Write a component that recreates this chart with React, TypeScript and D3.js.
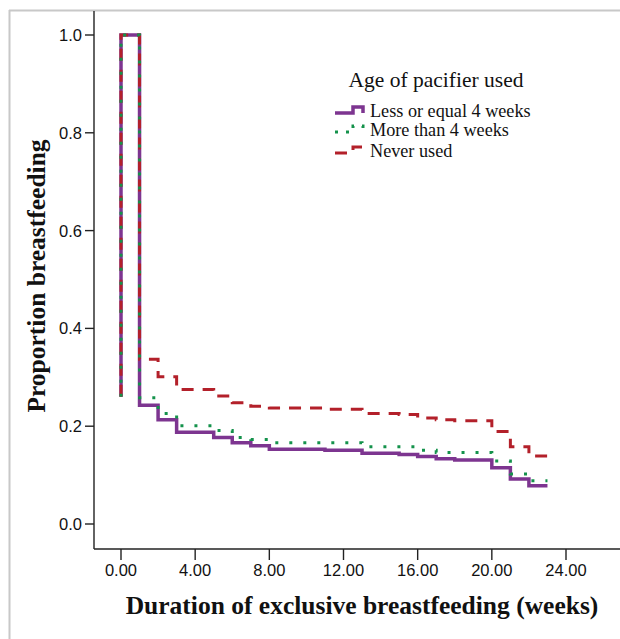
import React from "react";
import * as d3 from "d3";

// Kaplan–Meier style step curves: proportion still exclusively breastfeeding by week
const lessEq4Times = [0, 0, 1, 2, 3, 5, 6, 7, 8, 11, 13, 15, 16, 17, 18, 20, 21, 22, 23];
const lessEq4Values = [0.26, 1.0, 0.243, 0.213, 0.1875, 0.177, 0.166, 0.16, 0.153, 0.151, 0.1446, 0.142, 0.138, 0.1335, 0.131, 0.115, 0.092, 0.078, 0.078];

const moreThan4Times = [0, 0, 1, 2, 3, 5, 6, 7, 8, 13, 16, 17, 20, 21, 22, 23];
const moreThan4Values = [0.26, 1.0, 0.258, 0.226, 0.201, 0.191, 0.177, 0.173, 0.166, 0.158, 0.151, 0.146, 0.129, 0.102, 0.0885, 0.0885];

const neverTimes = [0, 0, 1, 2, 3, 5, 6, 7, 8, 11, 13, 15, 16, 17, 18, 20, 21, 22, 23];
const neverValues = [0.26, 1.0, 0.337, 0.301, 0.275, 0.262, 0.248, 0.241, 0.237, 0.2345, 0.226, 0.224, 0.217, 0.213, 0.211, 0.189, 0.158, 0.139, 0.139];

const xTicks = [0, 4, 8, 12, 16, 20, 24];
const yTicks = [0, 0.2, 0.4, 0.6, 0.8, 1.0];

const legendTitle = "Age of pacifier used";
const seriesLabels = ["Less or equal 4 weeks", "More than 4 weeks", "Never used"];

const W = 620;
const H = 639;

const PURPLE = "#7d3590";
const GREEN = "#14924b";
const RED = "#b3202a";

export default function App() {
  const x = d3.scaleLinear().domain([0, 24]).range([121, 566]);
  const y = d3.scaleLinear().domain([0, 1]).range([524, 35]);

  const step = d3
    .line<[number, number]>()
    .x((d) => x(d[0]))
    .y((d) => y(d[1]))
    .curve(d3.curveStepAfter);

  const zip = (t: number[], v: number[]) => t.map((ti, i) => [ti, v[i]] as [number, number]);

  const axisX = 94;
  const axisY = 549;

  const serifFont = "'Liberation Serif', 'Times New Roman', serif";
  const sansFont = "'Liberation Sans', Arial, sans-serif";

  // legend step glyph
  const glyph = (base: number) => `M335,${base} H353 V${base - 6} H363 V${base}`;

  return (
    <svg
      width={W}
      height={H}
      style={{ position: "absolute", left: 0, top: 0, background: "#fff" }}
    >
      {/* outer frame */}
      <line x1={9.5} y1={10} x2={9.5} y2={H} stroke="#c8c8c8" strokeWidth={2} />
      <line x1={9} y1={10.5} x2={W} y2={10.5} stroke="#c8c8c8" strokeWidth={2} />

      {/* axes */}
      <line x1={axisX} y1={11} x2={axisX} y2={axisY} stroke="#222" strokeWidth={1.4} />
      <line x1={axisX} y1={axisY} x2={W} y2={axisY} stroke="#222" strokeWidth={1.4} />

      {yTicks.map((t) => (
        <g key={"y" + t}>
          <line x1={85} x2={axisX} y1={y(t)} y2={y(t)} stroke="#222" strokeWidth={1.4} />
          <text
            x={82}
            y={y(t) + 6}
            textAnchor="end"
            fontFamily={sansFont}
            fontSize={16.5}
            fill="#111"
          >
            {t.toFixed(1)}
          </text>
        </g>
      ))}

      {xTicks.map((t) => (
        <g key={"x" + t}>
          <line x1={x(t)} x2={x(t)} y1={axisY} y2={560} stroke="#222" strokeWidth={1.4} />
          <text
            x={x(t)}
            y={576}
            textAnchor="middle"
            fontFamily={sansFont}
            fontSize={16.5}
            fill="#111"
          >
            {t.toFixed(2)}
          </text>
        </g>
      ))}

      {/* axis titles */}
      <text
        x={362}
        y={614}
        textAnchor="middle"
        fontFamily={serifFont}
        fontWeight="bold"
        fontSize={25.5}
        fill="#111"
      >
        Duration of exclusive breastfeeding (weeks)
      </text>
      <text
        transform="translate(45,276) rotate(-90)"
        textAnchor="middle"
        fontFamily={serifFont}
        fontWeight="bold"
        fontSize={25.5}
        fill="#111"
      >
        Proportion breastfeeding
      </text>

      {/* survival curves */}
      <path
        d={step(zip(lessEq4Times, lessEq4Values)) || ""}
        fill="none"
        stroke={PURPLE}
        strokeWidth={3.5}
      />
      <path
        d={step(zip(neverTimes, neverValues)) || ""}
        fill="none"
        stroke={RED}
        strokeWidth={3}
        strokeDasharray="12,9"
      />
      <path
        d={step(zip(moreThan4Times, moreThan4Values)) || ""}
        fill="none"
        stroke={GREEN}
        strokeWidth={3}
        strokeDasharray="3,11"
      />

      {/* legend */}
      <text x={436} y={87} textAnchor="middle" fontFamily={serifFont} fontSize={21.5} fill="#111">
        {legendTitle}
      </text>
      <path d={glyph(113)} fill="none" stroke={PURPLE} strokeWidth={3.5} />
      <path d={glyph(132)} fill="none" stroke={GREEN} strokeWidth={3} strokeDasharray="3,8" />
      <path d={glyph(153)} fill="none" stroke={RED} strokeWidth={3} strokeDasharray="12,9" />
      {seriesLabels.map((s, i) => (
        <text
          key={s}
          x={370}
          y={[117, 136, 157][i]}
          fontFamily={serifFont}
          fontSize={18.2}
          fill="#111"
        >
          {s}
        </text>
      ))}
    </svg>
  );
}
